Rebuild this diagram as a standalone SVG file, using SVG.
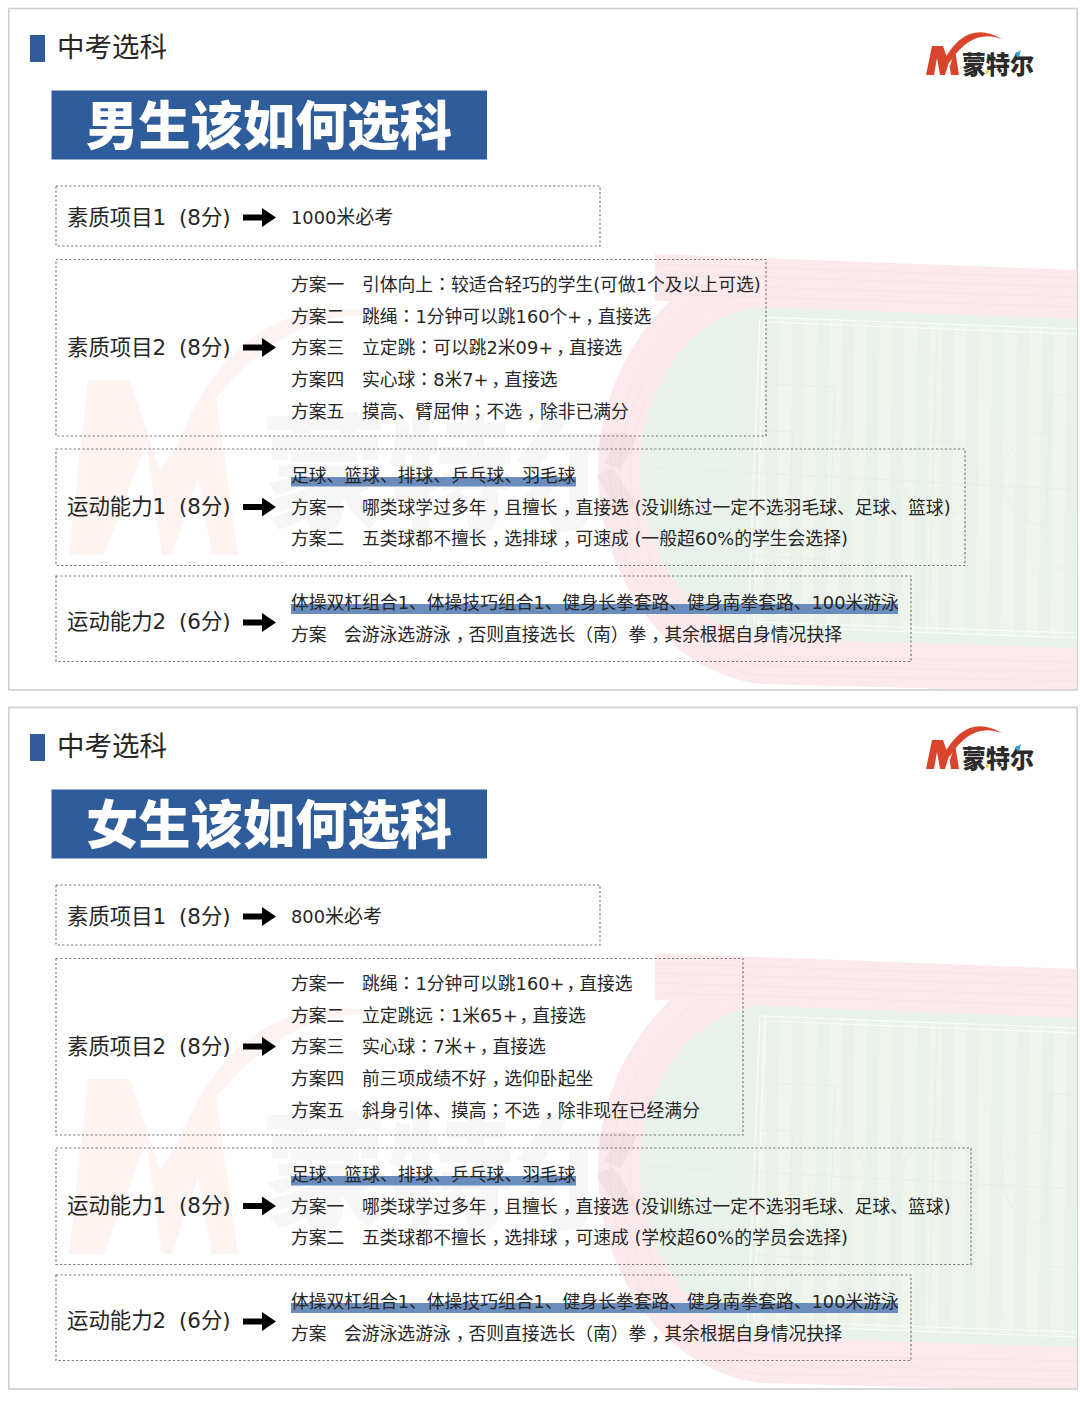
<svg xmlns="http://www.w3.org/2000/svg" width="1080" height="1403" viewBox="0 0 1080 1403">
<style>
text{font-family:"DejaVu Sans","Noto Sans CJK SC",sans-serif;fill:#262626}
.t{font-size:17.8px}
.l{font-size:21.4px}
.h{font-size:27.5px}
.b{font-size:52.3px;font-weight:900;fill:#fff;font-family:"Noto Sans CJK SC",sans-serif}
.c{font-family:"Noto Sans CJK TC",sans-serif}
.k{letter-spacing:-5px}
.box{fill:none;stroke:#777;stroke-width:1.2;stroke-dasharray:2.2 2.2}
.panel{fill:#fff;stroke:#cfcfcf;stroke-width:1.6}
.mark{fill:#2f5d9c}
.hl{fill:#6b8dbd}
.lane{fill:none;stroke:#f7dfe2;stroke-width:.7}
.fl{fill:none;stroke:#fafcf8;stroke-width:1.1}
.fg{fill:none;stroke:#e3ebe3;stroke-width:.8}
.conn{stroke:#000;stroke-width:6;fill:none;marker-end:url(#ah)}
.lg{font-size:25px;font-weight:900;fill:#2a2a2a;font-family:"Noto Sans CJK SC",sans-serif}
.wt{font-size:125px;font-weight:900;fill:#000;fill-opacity:.035;font-family:"Noto Sans CJK SC",sans-serif}
</style>
<defs>
<marker id="ah" markerUnits="userSpaceOnUse" markerWidth="16" markerHeight="21" refX="1" refY="10.500" orient="auto"><path d="M1,1 L15,10.500 L1,20 Z" fill="#000"/></marker>
<pattern id="st" patternUnits="userSpaceOnUse" width="25" height="400" x="771" patternTransform="rotate(0.7)"><rect width="25" height="400" fill="#e9f2ea"/><rect x="12.500" width="12.500" height="400" fill="#eff5ea"/></pattern>
<g id="logo">
<path d="M926,75 L932,46 L943,46 L950,66 L955,50 L959,75 L951,75 L949,62 L945,75 L940,75 L937,58 L934,75 Z" fill="#d9452c"/>
<path d="M943,62 Q966,18 1002,39 Q972,28 950,62 Z" fill="#d9452c"/>
<text class="lg" x="962" y="74" textLength="72" lengthAdjust="spacingAndGlyphs">蒙特尔</text>
<path d="M985,70 L989,71 L987,75 Z" fill="#f2d028"/>
<path d="M1015,54 L1021,50 L1018,58 Z" fill="#2aa3dc"/>
</g>
<g id="wm">
<path d="M69,555 L88,380 L130,380 L160,470 L215,391 L238,555 L212,555 L198,478 L172,555 L162,555 L146,443 L104,555 Z" fill="#fdf3f0"/>
<path d="M165,480 Q240,235 465,341 Q320,268 215,400 Z" fill="#fdf3f0"/>
<text class="wt" x="262" y="520" textLength="378" lengthAdjust="spacingAndGlyphs">蒙特尔</text>
</g>
<g id="bg">
<path d="M655,254 L1077,270 L1077,689 L950,689 L760,684 C660,670 598,570 598,470 C598,400 630,340 670,301 L655,301 Z" fill="#fbe9eb"/>
<path class="lane" d="M655,264 L1077,278"/><path class="lane" d="M655,274 L1077,287"/><path class="lane" d="M655,284 L1077,297"/><path class="lane" d="M660,294 L1077,307"/>
<path class="lane" d="M700,299 C650,340 610,410 610,470 C610,570 670,665 760,675 L1077,681"/>
<path class="lane" d="M720,300 C660,340 620,410 620,470 C620,560 680,655 760,666 L1077,672"/>
<path class="lane" d="M740,303 C670,340 630,410 630,470 C630,550 690,645 755,656 L1077,662"/>
<path d="M760,307 L1077,319 L1077,648 L755,638 C690,625 640,550 640,468 C640,390 690,312 760,307 Z" fill="#e9f2ea"/>
<path d="M762,318 L1077,330 L1077,637 L756,627 Z" fill="url(#st)"/>
<path class="fl" d="M760,317 L1077,329"/><path class="fl" d="M765,322 L1077,334"/>
<path class="fl" d="M760,317 L748,626 L1077,638"/><path class="fl" d="M765,322 L754,622 L1077,633"/>
<path class="fg" d="M642,467 L1077,490"/>
<path class="fg" d="M763,384 L835,387 L829,560 L755,556"/>
<path class="fg" d="M761,431 L793,432 L788,515 L757,513"/>
<path class="fg" d="M835,440 A38,38 0 0 1 832,515"/>
<circle class="fg" cx="940" cy="478" r="38"/>
<path class="fg" d="M1077,395 L1050,395 L1045,568 L1077,568"/>
<path class="fg" d="M1050,432 A40,40 0 0 0 1047,525"/>
<path class="fg" d="M937,330 L929,620"/>
<path class="fg" d="M766,332 A10,10 0 0 0 775,322"/>
</g>
</defs>

<g id="panel-boys">
<rect class="panel" x="8.800" y="8.500" width="1068.400" height="681.500"/>
<use href="#bg"/>
<use href="#wm"/>
<use href="#logo"/>
<rect class="mark" x="30" y="35" width="15" height="27"/>
<text class="h" x="57" y="57">中考选科</text>
<rect class="mark" x="51.500" y="90.500" width="435.500" height="69"/>
<text class="b" x="86" y="145">男生该如何选科</text>
</g>

<g id="boys-n1"><rect class="box" x="56" y="186" width="544" height="60"/>
<text class="l" x="67" y="224.500">素质项目1 <tspan dx="6">(8分)</tspan></text>
<text class="t" x="291" y="223.500">1000<tspan font-size="19">米必考</tspan></text></g>

<g id="boys-n2"><rect class="box" x="56" y="259.500" width="710" height="176.500"/>
<text class="l" x="67" y="354.500">素质项目2 <tspan dx="6">(8分)</tspan></text>
<text class="t" x="291" y="291">方案一</text><text class="t" x="362" y="291">引体向上<tspan class="c">：</tspan>较适合轻巧的学生(可做1个及以上可选)</text>
<text class="t" x="291" y="322.500">方案二</text><text class="t" x="362" y="322.500">跳绳<tspan class="c">：</tspan>1分钟可以跳160个+<tspan class="k" dx="3">，</tspan>直接选</text>
<text class="t" x="291" y="354">方案三</text><text class="t" x="362" y="354">立定跳<tspan class="c">：</tspan>可以跳2米09+<tspan class="k" dx="3">，</tspan>直接选</text>
<text class="t" x="291" y="386">方案四</text><text class="t" x="362" y="386">实心球<tspan class="c">：</tspan>8米7+<tspan class="k" dx="3">，</tspan>直接选</text>
<text class="t" x="291" y="417.500">方案五</text><text class="t" x="362" y="417.500">摸高、臂屈伸<tspan class="c">；</tspan>不选<tspan class="k" dx="5">，</tspan>除非已满分</text></g>

<g id="boys-n3"><rect class="box" x="56" y="449" width="909" height="116.500"/>
<rect class="hl" x="291" y="477" width="285" height="9.500"/>
<text class="l" x="67" y="514">运动能力1 <tspan dx="6">(8分)</tspan></text>
<text class="t" x="291" y="482">足球、篮球、排球、乒乓球、羽毛球</text>
<text class="t" x="291" y="514">方案一</text><text class="t" x="362" y="514">哪类球学过多年<tspan class="k" dx="5">，</tspan>且擅长<tspan class="k" dx="5">，</tspan>直接选 (没训练过一定不选羽毛球、足球、篮球)</text>
<text class="t" x="291" y="545">方案二</text><text class="t" x="362" y="545">五类球都不擅长<tspan class="k" dx="5">，</tspan>选排球<tspan class="k" dx="5">，</tspan>可速成 (一般超60%的学生会选择)</text></g>

<g id="boys-n4"><rect class="box" x="56" y="576" width="855" height="85.500"/>
<rect class="hl" x="291" y="604" width="607" height="10"/>
<text class="l" x="67" y="629">运动能力2 <tspan dx="6">(6分)</tspan></text>
<text class="t" x="291" y="609">体操双杠组合1、体操技巧组合1、健身长拳套路、健身南拳套路、100米游泳</text>
<text class="t" x="291" y="641">方案</text><text class="t" x="344" y="641">会游泳选游泳<tspan class="k" dx="5">，</tspan>否则直接选长（南）拳<tspan class="k" dx="5">，</tspan>其余根据自身情况抉择</text></g>

<g id="panel-girls">
<rect class="panel" x="8.800" y="707.500" width="1068.400" height="681.500"/>
<use href="#bg" y="699"/>
<use href="#wm" y="699"/>
<use href="#logo" y="694"/>
<rect class="mark" x="30" y="734" width="15" height="27"/>
<text class="h" x="57" y="756">中考选科</text>
<rect class="mark" x="51.500" y="789.500" width="435.500" height="69"/>
<text class="b" x="86" y="844">女生该如何选科</text>
</g>

<g id="girls-n1"><rect class="box" x="56" y="885" width="544" height="60"/>
<text class="l" x="67" y="923.500">素质项目1 <tspan dx="6">(8分)</tspan></text>
<text class="t" x="291" y="922.500">800<tspan font-size="19">米必考</tspan></text></g>

<g id="girls-n2"><rect class="box" x="56" y="958.500" width="687" height="176.500"/>
<text class="l" x="67" y="1053.500">素质项目2 <tspan dx="6">(8分)</tspan></text>
<text class="t" x="291" y="990">方案一</text><text class="t" x="362" y="990">跳绳<tspan class="c">：</tspan>1分钟可以跳160+<tspan class="k" dx="2">，</tspan>直接选</text>
<text class="t" x="291" y="1021.500">方案二</text><text class="t" x="362" y="1021.500">立定跳远<tspan class="c">：</tspan>1米65+<tspan class="k" dx="2">，</tspan>直接选</text>
<text class="t" x="291" y="1053">方案三</text><text class="t" x="362" y="1053">实心球<tspan class="c">：</tspan>7米+<tspan class="k" dx="2.500">，</tspan>直接选</text>
<text class="t" x="291" y="1085">方案四</text><text class="t" x="362" y="1085">前三项成绩不好<tspan class="k" dx="5">，</tspan>选仰卧起坐</text>
<text class="t" x="291" y="1116.500">方案五</text><text class="t" x="362" y="1116.500">斜身引体、摸高<tspan class="c">；</tspan>不选<tspan class="k" dx="5">，</tspan>除非现在已经满分</text></g>

<g id="girls-n3"><rect class="box" x="56" y="1148" width="915" height="116.500"/>
<rect class="hl" x="291" y="1176" width="285" height="9.500"/>
<text class="l" x="67" y="1213">运动能力1 <tspan dx="6">(8分)</tspan></text>
<text class="t" x="291" y="1181">足球、篮球、排球、乒乓球、羽毛球</text>
<text class="t" x="291" y="1213">方案一</text><text class="t" x="362" y="1213">哪类球学过多年<tspan class="k" dx="5">，</tspan>且擅长<tspan class="k" dx="5">，</tspan>直接选 (没训练过一定不选羽毛球、足球、篮球)</text>
<text class="t" x="291" y="1244">方案二</text><text class="t" x="362" y="1244">五类球都不擅长<tspan class="k" dx="5">，</tspan>选排球<tspan class="k" dx="5">，</tspan>可速成 (学校超60%的学员会选择)</text></g>

<g id="girls-n4"><rect class="box" x="56" y="1275" width="855" height="85.500"/>
<rect class="hl" x="291" y="1303" width="607" height="10"/>
<text class="l" x="67" y="1328">运动能力2 <tspan dx="6">(6分)</tspan></text>
<text class="t" x="291" y="1308">体操双杠组合1、体操技巧组合1、健身长拳套路、健身南拳套路、100米游泳</text>
<text class="t" x="291" y="1340">方案</text><text class="t" x="344" y="1340">会游泳选游泳<tspan class="k" dx="5">，</tspan>否则直接选长（南）拳<tspan class="k" dx="5">，</tspan>其余根据自身情况抉择</text></g>

<g id="connectors">
<path class="conn" d="M243,217.500 H262"/>
<path class="conn" d="M243,347.500 H262"/>
<path class="conn" d="M243,507 H262"/>
<path class="conn" d="M243,622.500 H262"/>
<path class="conn" d="M243,916.500 H262"/>
<path class="conn" d="M243,1046.500 H262"/>
<path class="conn" d="M243,1206 H262"/>
<path class="conn" d="M243,1321.500 H262"/>
</g>
</svg>
